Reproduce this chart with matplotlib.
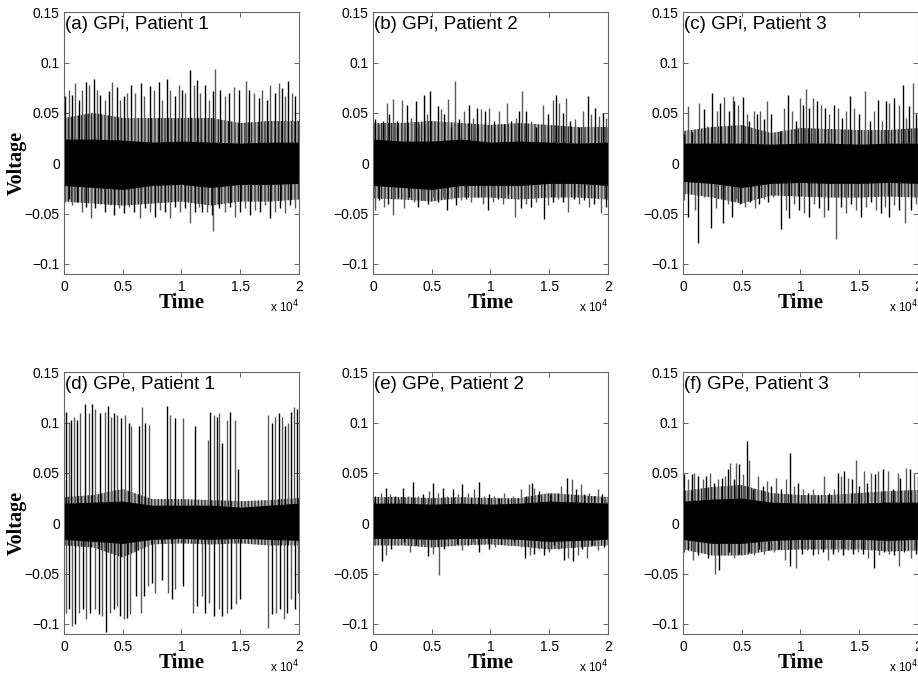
import matplotlib
matplotlib.use("Agg")
import matplotlib.pyplot as plt

plt.rcParams['hatch.linewidth'] = 0.9

# spike tips: (sample, voltage)
a_up = [(110, 0.067), (400, 0.073), (680, 0.068), (965, 0.080), (1250, 0.063), (1530, 0.073),
        (1870, 0.081), (2100, 0.078), (2580, 0.084), (2810, 0.073), (3090, 0.068), (3520, 0.063),
        (3800, 0.072), (4090, 0.081), (4510, 0.076), (4800, 0.063), (5080, 0.067), (5360, 0.070),
        (5700, 0.078), (6070, 0.070), (6550, 0.080), (6780, 0.067), (7290, 0.077), (7630, 0.073),
        (8060, 0.081), (8340, 0.063), (8770, 0.084), (9050, 0.073), (9480, 0.067), (9760, 0.078),
        (10040, 0.073), (10330, 0.070), (10700, 0.093), (11040, 0.078), (11320, 0.083), (11600, 0.070),
        (12030, 0.078), (12310, 0.063), (12650, 0.072), (12880, 0.094), (13310, 0.073), (13730, 0.067),
        (14020, 0.070), (14440, 0.076), (14870, 0.073), (15490, 0.082), (15720, 0.073), (16140, 0.070),
        (16570, 0.065), (16850, 0.073), (17280, 0.063), (17560, 0.078), (17990, 0.070), (18270, 0.080),
        (18550, 0.075), (18840, 0.067), (19070, 0.082), (19410, 0.070), (19690, 0.067)]
a_dn = [(110, -0.038), (400, -0.035), (680, -0.041), (1110, -0.038), (1530, -0.048), (1870, -0.043),
        (2330, -0.054), (2670, -0.044), (3090, -0.040), (3520, -0.048), (3940, -0.041), (4230, -0.051),
        (4650, -0.044), (5080, -0.049), (5500, -0.043), (5930, -0.048), (6500, -0.054), (6920, -0.044),
        (7350, -0.048), (7770, -0.053), (8200, -0.046), (8630, -0.048), (9050, -0.054), (9480, -0.043),
        (9900, -0.048), (10330, -0.044), (10750, -0.059), (11180, -0.048), (11460, -0.043), (11750, -0.048),
        (12170, -0.048), (12600, -0.051), (12700, -0.067), (13160, -0.044), (13730, -0.048), (14160, -0.043),
        (14580, -0.053), (15010, -0.048), (15430, -0.044), (15860, -0.051), (16290, -0.046), (16710, -0.048),
        (17140, -0.041), (17560, -0.054), (17990, -0.048), (18410, -0.044), (18840, -0.049), (19260, -0.041),
        (19690, -0.044)]

b_up = [(170, 0.044), (540, 0.039), (820, 0.042), (1190, 0.060), (1390, 0.049), (1730, 0.064),
        (2040, 0.042), (2440, 0.063), (2890, 0.058), (3230, 0.045), (3660, 0.062), (3940, 0.039),
        (4310, 0.068), (4600, 0.049), (4850, 0.072), (5160, 0.040), (5500, 0.057), (5790, 0.054),
        (6070, 0.049), (6360, 0.064), (6640, 0.036), (7010, 0.082), (7350, 0.044), (7770, 0.052),
        (8140, 0.058), (8480, 0.045), (8850, 0.055), (9190, 0.054), (9530, 0.052), (9900, 0.055),
        (10330, 0.042), (10750, 0.052), (11120, 0.039), (11380, 0.060), (11750, 0.042), (12170, 0.045),
        (12450, 0.052), (12680, 0.072), (13020, 0.052), (13450, 0.042), (13870, 0.036), (14440, 0.058),
        (14870, 0.049), (15290, 0.063), (15580, 0.068), (15860, 0.060), (16140, 0.050), (16430, 0.065),
        (16800, 0.042), (17190, 0.044), (17560, 0.036), (17850, 0.052), (18270, 0.067), (18550, 0.049),
        (18900, 0.055), (19260, 0.047), (19550, 0.050), (19830, 0.045)]
b_dn = [(170, -0.046), (540, -0.036), (910, -0.043), (1310, -0.040), (1700, -0.051), (2100, -0.033),
        (2670, -0.044), (3090, -0.033), (3520, -0.038), (3800, -0.043), (4230, -0.036), (4650, -0.040),
        (5080, -0.033), (5500, -0.038), (5930, -0.033), (6300, -0.046), (6640, -0.035), (7060, -0.041),
        (7490, -0.036), (7920, -0.035), (8340, -0.038), (8910, -0.033), (9330, -0.040), (9760, -0.046),
        (10190, -0.038), (10610, -0.035), (11040, -0.040), (11460, -0.031), (12110, -0.053), (12600, -0.044),
        (13020, -0.040), (13450, -0.043), (13870, -0.038), (14530, -0.055), (14870, -0.041), (15290, -0.038),
        (15720, -0.035), (16140, -0.038), (16630, -0.048), (17140, -0.035), (17560, -0.040), (17990, -0.036),
        (18410, -0.043), (18840, -0.040), (19410, -0.049), (19830, -0.043)]

c_up = [(60, 0.029), (400, 0.057), (740, 0.031), (1390, 0.060), (1760, 0.054), (2040, 0.037),
        (2440, 0.070), (2890, 0.052), (3180, 0.060), (3520, 0.066), (3890, 0.052), (4230, 0.067),
        (4370, 0.062), (4710, 0.058), (5080, 0.066), (5420, 0.049), (5650, 0.042), (6020, 0.052),
        (6270, 0.049), (6580, 0.052), (6920, 0.044), (7150, 0.062), (7490, 0.049), (7830, 0.026),
        (8290, 0.032), (8630, 0.055), (8910, 0.068), (9250, 0.052), (9620, 0.042), (9990, 0.065),
        (10190, 0.058), (10470, 0.074), (10750, 0.055), (11040, 0.065), (11410, 0.062), (11750, 0.058),
        (12090, 0.055), (12450, 0.049), (12820, 0.058), (13160, 0.055), (13500, 0.045), (13870, 0.052),
        (14240, 0.067), (14580, 0.055), (15010, 0.049), (15490, 0.072), (15940, 0.042), (16230, 0.052),
        (16570, 0.063), (16940, 0.042), (17280, 0.062), (17560, 0.060), (17990, 0.065), (18410, 0.058),
        (18750, 0.078), (18980, 0.045), (19260, 0.057), (19550, 0.080), (19830, 0.049)]
c_dn = [(110, -0.036), (450, -0.053), (1020, -0.046), (1250, -0.079), (1820, -0.033), (2380, -0.064),
        (2810, -0.044), (3380, -0.059), (3800, -0.040), (4140, -0.053), (4510, -0.035), (4880, -0.040),
        (5280, -0.043), (5730, -0.038), (6130, -0.044), (6500, -0.040), (6870, -0.035), (7210, -0.038),
        (7630, -0.033), (8340, -0.065), (8770, -0.046), (9050, -0.054), (9480, -0.040), (9900, -0.046),
        (10330, -0.049), (10750, -0.053), (11180, -0.040), (11600, -0.044), (11970, -0.053), (12310, -0.046),
        (13020, -0.075), (13450, -0.043), (13870, -0.049), (14300, -0.040), (14720, -0.046), (15150, -0.053),
        (15580, -0.043), (16000, -0.038), (16430, -0.046), (16850, -0.049), (17190, -0.043), (17560, -0.053),
        (17990, -0.041), (18410, -0.046), (18900, -0.059), (19410, -0.046), (19830, -0.040)]

d_up = [(170, 0.111), (400, 0.101), (620, 0.103), (880, 0.106), (1110, 0.103), (1390, 0.110),
        (1760, 0.118), (2160, 0.110), (2380, 0.118), (2670, 0.113), (3090, 0.110), (3460, 0.111),
        (3720, 0.116), (4030, 0.106), (4230, 0.110), (4510, 0.108), (4880, 0.105), (5160, 0.108),
        (5500, 0.100), (5730, 0.097), (6410, 0.097), (6640, 0.115), (6870, 0.100), (7210, 0.098),
        (8770, 0.116), (9050, 0.108), (9420, 0.105), (10100, 0.105), (11180, 0.097), (12260, 0.083),
        (12450, 0.111), (12740, 0.108), (13020, 0.106), (13160, 0.110), (13450, 0.080), (13870, 0.103),
        (14160, 0.111), (14580, 0.103), (14810, 0.054), (17330, 0.108), (17700, 0.100), (17990, 0.106),
        (18270, 0.110), (18550, 0.106), (18780, 0.097), (19070, 0.100), (19350, 0.111), (19600, 0.115),
        (19830, 0.113)]
d_dn = [(170, -0.089), (450, -0.085), (680, -0.102), (970, -0.100), (1310, -0.089), (1590, -0.085),
        (1870, -0.095), (2240, -0.089), (2670, -0.085), (2950, -0.090), (3230, -0.092), (3580, -0.108),
        (3940, -0.089), (4230, -0.085), (4510, -0.082), (4800, -0.092), (5080, -0.095), (5360, -0.094),
        (5650, -0.090), (6130, -0.072), (6580, -0.089), (6780, -0.072), (7150, -0.062), (7490, -0.059),
        (7770, -0.069), (8340, -0.056), (8850, -0.069), (9190, -0.075), (9480, -0.065), (10100, -0.062),
        (10950, -0.089), (11320, -0.082), (11750, -0.072), (12030, -0.089), (12310, -0.079), (12740, -0.092),
        (13160, -0.085), (13450, -0.092), (13870, -0.089), (14240, -0.085), (14620, -0.080), (14950, -0.075),
        (17330, -0.104), (17700, -0.090), (18040, -0.089), (18410, -0.085), (18700, -0.095), (18980, -0.089),
        (19350, -0.075), (19630, -0.085), (19920, -0.069)]

e_up = [(170, 0.027), (680, 0.030), (1110, 0.035), (1480, 0.029), (1870, 0.027), (2240, 0.024),
        (2580, 0.035), (2950, 0.027), (3380, 0.041), (3800, 0.027), (4230, 0.029), (4740, 0.032),
        (5140, 0.040), (5500, 0.030), (5930, 0.035), (6300, 0.027), (6780, 0.034), (7210, 0.029),
        (7580, 0.039), (8060, 0.030), (8340, 0.025), (8630, 0.034), (8990, 0.041), (9480, 0.027),
        (9900, 0.029), (10330, 0.027), (10750, 0.025), (11180, 0.030), (11460, 0.024), (11890, 0.027),
        (12310, 0.025), (12600, 0.034), (13020, 0.027), (13310, 0.039), (13530, 0.040), (13730, 0.035),
        (14160, 0.032), (14580, 0.025), (15070, 0.029), (15430, 0.024), (15720, 0.030), (16000, 0.037),
        (16510, 0.045), (16910, 0.044), (17280, 0.034), (17700, 0.039), (17990, 0.029), (18410, 0.030),
        (18780, 0.027), (19120, 0.034), (19460, 0.029), (19830, 0.022)]
e_dn = [(170, -0.022), (740, -0.037), (1110, -0.032), (1530, -0.026), (2100, -0.022), (2670, -0.019),
        (3180, -0.029), (3660, -0.022), (4230, -0.021), (4710, -0.033), (5080, -0.031), (5500, -0.024),
        (5620, -0.051), (6070, -0.026), (6640, -0.022), (7150, -0.021), (7550, -0.027), (8060, -0.022),
        (8480, -0.019), (8990, -0.029), (9480, -0.021), (9900, -0.026), (10380, -0.024), (10890, -0.021),
        (11460, -0.022), (12030, -0.019), (12600, -0.024), (12940, -0.034), (13390, -0.032), (13730, -0.031),
        (14160, -0.026), (14530, -0.032), (15010, -0.029), (15430, -0.022), (15860, -0.026), (16230, -0.036),
        (16630, -0.034), (16990, -0.037), (17420, -0.032), (17790, -0.026), (18210, -0.034), (18610, -0.022),
        (19120, -0.027), (19690, -0.024)]

f_up = [(60, 0.049), (400, 0.044), (740, 0.049), (970, 0.050), (1250, 0.047), (1670, 0.044),
        (1960, 0.047), (2330, 0.050), (2670, 0.040), (3010, 0.044), (3290, 0.045), (3580, 0.047),
        (3800, 0.054), (4030, 0.060), (4310, 0.044), (4510, 0.060), (4800, 0.059), (5080, 0.049),
        (5420, 0.082), (5650, 0.063), (5930, 0.034), (6360, 0.047), (6780, 0.037), (7150, 0.042),
        (7490, 0.037), (7920, 0.045), (8340, 0.034), (8770, 0.044), (9110, 0.070), (9480, 0.037),
        (9760, 0.040), (10190, 0.034), (10610, 0.030), (11040, 0.034), (11460, 0.027), (12030, 0.047),
        (12450, 0.030), (12880, 0.034), (13220, 0.050), (13450, 0.047), (13730, 0.052), (14020, 0.045),
        (14360, 0.044), (14720, 0.063), (15010, 0.037), (15380, 0.052), (15660, 0.040), (16000, 0.050),
        (16340, 0.049), (16630, 0.052), (16990, 0.054), (17420, 0.052), (17850, 0.034), (18270, 0.050),
        (18500, 0.045), (18980, 0.055), (19350, 0.054), (19690, 0.049), (19970, 0.047)]
f_dn = [(110, -0.029), (450, -0.026), (820, -0.036), (1250, -0.032), (1760, -0.029), (2160, -0.034),
        (2720, -0.050), (3090, -0.046), (3520, -0.032), (3940, -0.029), (4370, -0.034), (4800, -0.031),
        (5220, -0.027), (5650, -0.029), (6070, -0.032), (6500, -0.026), (6920, -0.031), (7350, -0.027),
        (7770, -0.029), (8200, -0.026), (8680, -0.036), (9140, -0.042), (9620, -0.044), (10100, -0.031),
        (10550, -0.027), (11040, -0.032), (11460, -0.031), (11890, -0.029), (12310, -0.036), (12740, -0.031),
        (13160, -0.029), (13590, -0.032), (14020, -0.027), (14440, -0.031), (14870, -0.029), (15290, -0.031),
        (15720, -0.034), (16290, -0.044), (16710, -0.032), (17140, -0.029), (17560, -0.031), (17990, -0.032),
        (18410, -0.042), (18840, -0.029), (19410, -0.034), (19830, -0.031)]

# solid core of the trace (upper / lower edge)
band_t = [0, 2500, 5000, 7500, 10000, 12500, 15000, 17500, 20000]
a_hi = [0.024, 0.024, 0.023, 0.021, 0.022, 0.021, 0.020, 0.021, 0.021]
a_lo = [-0.022, -0.024, -0.026, -0.022, -0.021, -0.024, -0.021, -0.021, -0.020]
b_hi = [0.024, 0.022, 0.022, 0.024, 0.021, 0.022, 0.021, 0.020, 0.021]
b_lo = [-0.022, -0.024, -0.026, -0.022, -0.022, -0.022, -0.020, -0.020, -0.022]
c_hi = [0.020, 0.020, 0.020, 0.019, 0.020, 0.020, 0.019, 0.020, 0.020]
c_lo = [-0.018, -0.020, -0.024, -0.020, -0.019, -0.020, -0.020, -0.019, -0.020]
d_hi = [0.020, 0.021, 0.022, 0.018, 0.018, 0.018, 0.016, 0.018, 0.020]
d_lo = [-0.016, -0.018, -0.020, -0.016, -0.015, -0.016, -0.015, -0.016, -0.017]
e_hi = [0.020, 0.020, 0.019, 0.020, 0.019, 0.020, 0.022, 0.021, 0.020]
e_lo = [-0.015, -0.015, -0.016, -0.015, -0.015, -0.016, -0.018, -0.017, -0.016]
f_hi = [0.022, 0.024, 0.025, 0.021, 0.020, 0.020, 0.020, 0.021, 0.021]
f_lo = [-0.016, -0.020, -0.020, -0.017, -0.016, -0.016, -0.016, -0.017, -0.016]

# reach of the dense (not solid) fringe around the core
a_fz_hi = [0.045, 0.050, 0.045, 0.045, 0.045, 0.045, 0.040, 0.042, 0.042]
a_fz_lo = [-0.038, -0.040, -0.042, -0.040, -0.038, -0.042, -0.038, -0.038, -0.036]
b_fz_hi = [0.040, 0.040, 0.042, 0.040, 0.038, 0.040, 0.038, 0.036, 0.036]
b_fz_lo = [-0.035, -0.036, -0.038, -0.034, -0.034, -0.036, -0.034, -0.034, -0.036]
c_fz_hi = [0.032, 0.036, 0.038, 0.030, 0.035, 0.034, 0.033, 0.033, 0.035]
c_fz_lo = [-0.030, -0.034, -0.040, -0.032, -0.033, -0.034, -0.034, -0.033, -0.034]
d_fz_hi = [0.026, 0.028, 0.034, 0.024, 0.024, 0.023, 0.022, 0.023, 0.025]
d_fz_lo = [-0.022, -0.024, -0.034, -0.021, -0.020, -0.021, -0.020, -0.022, -0.022]
e_fz_hi = [0.026, 0.026, 0.025, 0.026, 0.025, 0.025, 0.030, 0.028, 0.026]
e_fz_lo = [-0.022, -0.022, -0.024, -0.022, -0.021, -0.023, -0.026, -0.024, -0.022]
f_fz_hi = [0.032, 0.036, 0.038, 0.030, 0.028, 0.028, 0.030, 0.032, 0.033]
f_fz_lo = [-0.026, -0.032, -0.032, -0.027, -0.026, -0.026, -0.026, -0.028, -0.027]

titles = ['(a) GPi, Patient 1', '(b) GPi, Patient 2', '(c) GPi, Patient 3',
          '(d) GPe, Patient 1', '(e) GPe, Patient 2', '(f) GPe, Patient 3']
xticks = [0, 5000, 10000, 15000, 20000]
xticklabels = ['0', '0.5', '1', '1.5', '2']
yticks = [-0.1, -0.05, 0, 0.05, 0.1, 0.15]
yticklabels = ['\u22120.1', '\u22120.05', '0', '0.05', '0.1', '0.15']

panels = [(a_up, a_dn, a_hi, a_lo, a_fz_hi, a_fz_lo),
          (b_up, b_dn, b_hi, b_lo, b_fz_hi, b_fz_lo),
          (c_up, c_dn, c_hi, c_lo, c_fz_hi, c_fz_lo),
          (d_up, d_dn, d_hi, d_lo, d_fz_hi, d_fz_lo),
          (e_up, e_dn, e_hi, e_lo, e_fz_hi, e_fz_lo),
          (f_up, f_dn, f_hi, f_lo, f_fz_hi, f_fz_lo)]

sans = ['Liberation Sans', 'DejaVu Sans']
serif = ['Liberation Serif', 'DejaVu Serif']

fig = plt.figure(figsize=(9.18, 6.8), dpi=100)
lefts = [0.0697, 0.4063, 0.744]
bottoms = [0.597, 0.0676]
w, h = 0.256, 0.385

for i, (up, dn, hi, lo, fhi, flo) in enumerate(panels):
    row, col = divmod(i, 3)
    ax = fig.add_axes([lefts[col], bottoms[row], w, h])

    # fringe: vertical hatching stands in for the crowd of small excursions
    ax.fill_between(band_t, flo, fhi, facecolor='0.7', edgecolor='0.15',
                    hatch='|||||', lw=0, zorder=1)
    ut = [p[0] for p in up]
    uv = [p[1] for p in up]
    dt = [p[0] for p in dn]
    dv = [p[1] for p in dn]
    ucol = ['k' if j % 2 == 0 else '0.35' for j in range(len(up))]
    dcol = ['0.35' if j % 2 == 0 else 'k' for j in range(len(dn))]
    ax.vlines(ut, 0, uv, colors=ucol, lw=1.0, zorder=2)
    ax.vlines(dt, dv, 0, colors=dcol, lw=1.0, zorder=2)
    ax.fill_between(band_t, lo, hi, color='k', lw=0, zorder=3)

    ax.set_xlim(0, 20000)
    ax.set_ylim(-0.11, 0.15)
    ax.set_xticks(xticks)
    ax.set_xticklabels(xticklabels, fontfamily=sans, fontsize=10)
    ax.set_yticks(yticks)
    ax.set_yticklabels(yticklabels, fontfamily=sans, fontsize=10)
    ax.tick_params(direction='in', top=True, right=True, length=3.5, width=0.6, color='0.3')
    ax.tick_params(axis='x', pad=4)
    ax.tick_params(axis='y', pad=3)
    for s in ax.spines.values():
        s.set_color('0.4')
        s.set_linewidth(0.8)
        s.set_zorder(4)

    ax.annotate(titles[i], xy=(0, 1), xycoords='axes fraction', xytext=(1, -3),
                textcoords='offset points', ha='left', va='top',
                fontfamily=sans, fontsize=13.5)
    ax.annotate('Time', xy=(0.5, 0), xycoords='axes fraction', xytext=(0, -21),
                textcoords='offset points', ha='center', va='center',
                fontfamily=serif, fontsize=15, fontweight='bold')
    ax.annotate('x 10$^4$', xy=(1, 0), xycoords='axes fraction', xytext=(0, -24),
                textcoords='offset points', ha='right', va='center',
                fontfamily=sans, fontsize=8.5)
    if col == 0:
        ax.annotate('Voltage', xy=(0, 0), xycoords=('axes fraction', 'data'), xytext=(-34, 0),
                    textcoords='offset points', ha='center', va='center', rotation=90,
                    fontfamily=serif, fontsize=14.5, fontweight='bold')

fig.savefig('out.png', dpi=100)
